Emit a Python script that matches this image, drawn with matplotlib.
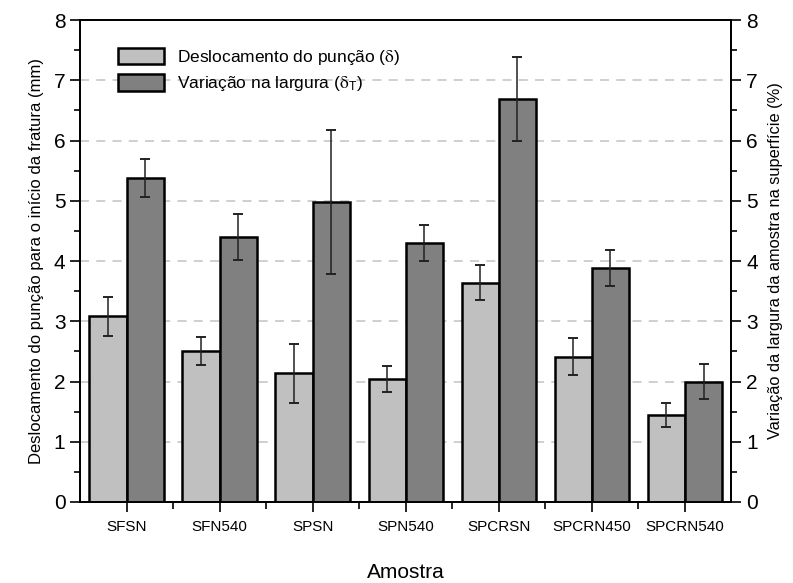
import numpy as np
import matplotlib
matplotlib.use("Agg")
from matplotlib import pyplot as plt

plt.rcParams['font.family'] = ['Liberation Sans', 'DejaVu Sans']
plt.rcParams['mathtext.fontset'] = 'stix'

amostras = ["SFSN", "SFN540", "SPSN", "SPN540", "SPCRSN", "SPCRN450", "SPCRN540"]
# deslocamento do punção (mm) e desvio
desloc = [3.08, 2.51, 2.14, 2.04, 3.64, 2.41, 1.45]
desloc_err = [0.33, 0.23, 0.49, 0.21, 0.29, 0.31, 0.20]
# variação na largura (%) e desvio
largura = [5.38, 4.40, 4.98, 4.30, 6.69, 3.89, 2.00]
largura_err = [0.31, 0.38, 1.19, 0.30, 0.70, 0.30, 0.29]

fig = plt.figure(figsize=(7.93, 5.83), dpi=100)
ax = fig.add_axes([0.1009, 0.139, 0.8215, 0.8265])
ax2 = ax.twinx()

x = np.arange(len(amostras))
larg = 0.4
cor_clara = "#c0c0c0"
cor_escura = "#808080"

ax.bar(x - larg/2, desloc, larg, color=cor_clara, edgecolor="black", linewidth=1.8,
       label=r"Deslocamento do punção ($\mathrm{\delta}$)", zorder=3)
ax.bar(x + larg/2, largura, larg, color=cor_escura, edgecolor="black", linewidth=1.8,
       label=r"Variação na largura ($\mathrm{\delta}_\mathregular{T}$)", zorder=3)
ax.errorbar(x - larg/2, desloc, yerr=desloc_err, fmt="none", ecolor="#222222",
            elinewidth=1.1, capsize=3.6, capthick=1.4, zorder=4)
ax.errorbar(x + larg/2, largura, yerr=largura_err, fmt="none", ecolor="#222222",
            elinewidth=1.1, capsize=3.6, capthick=1.4, zorder=4)

# linhas de grade tracejadas
for g in range(1, 8):
    ax.axhline(g, color="#cccccc", linestyle=(0, (5, 4)), linewidth=1.3, zorder=1)

for a in (ax, ax2):
    a.set_ylim(0, 8)
    a.set_yticks(np.arange(0, 9, 1))
    a.set_yticks(np.arange(0.5, 8, 1), minor=True)
    a.tick_params(axis="y", which="major", direction="out", length=7, width=1.2, labelsize=15)
    a.tick_params(axis="y", which="minor", direction="out", length=4, width=1.2)
    for s in a.spines.values():
        s.set_linewidth(1.3)

ax.set_xlim(-0.5, len(amostras) - 0.5)
ax.set_xticks(x)
ax.set_xticklabels(amostras, fontsize=11)
ax.set_xticks(np.arange(0.5, len(amostras) - 0.5, 1), minor=True)
ax.tick_params(axis="x", which="major", direction="inout", length=14, width=1.2, pad=6)
ax.tick_params(axis="x", which="minor", direction="out", length=5, width=1.2)

ax.set_xlabel("Amostra", fontsize=15, labelpad=21)
ax.set_ylabel("Deslocamento do punção para o início da fratura (mm)", fontsize=12, labelpad=7)
ax2.set_ylabel("Variação da largura da amostra na superfície (%)", fontsize=11.8, labelpad=7)

ax.legend(loc="upper left", bbox_to_anchor=(0.035, 0.975), frameon=False, fontsize=12.5,
          handlelength=2.6, handleheight=1.1, handletextpad=0.8, labelspacing=0.4)

fig.savefig("out.png", dpi=100)
